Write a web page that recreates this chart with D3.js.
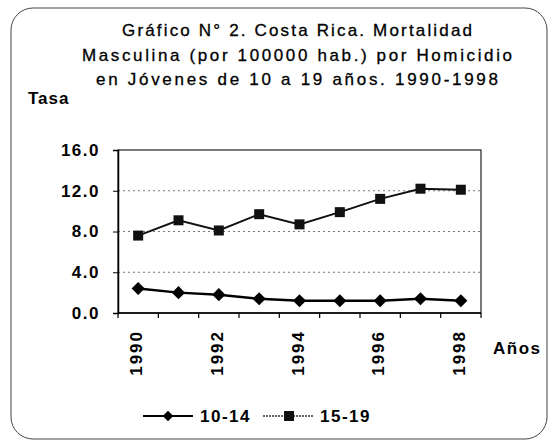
<!DOCTYPE html>
<html><head><meta charset="utf-8">
<script src="https://cdn.jsdelivr.net/npm/d3@7"></script>
<style>body{margin:0;background:#fff}svg{display:block}</style>
</head><body><svg id="c" width="550" height="442"></svg>
<script>
const years = [1990,1991,1992,1993,1994,1995,1996,1997,1998];
const tickYears = [1990,1992,1994,1996,1998];
const s1014 = [2.4,2.0,1.8,1.4,1.2,1.2,1.2,1.4,1.2];
const s1519 = [7.6,9.1,8.1,9.7,8.7,9.9,11.2,12.2,12.1];
const yTicks = [0,4,8,12,16];
const titleLines = ["Gráfico N° 2.  Costa Rica. Mortalidad","Masculina (por 100000 hab.) por Homicidio","en Jóvenes de 10 a 19 años.  1990-1998"];
const seriesNames = ["10-14","15-19"];

const svg = d3.select("#c");
const F = "'Liberation Sans', Arial, sans-serif";
svg.append("rect").attr("x",11).attr("y",8).attr("width",536).attr("height",431).attr("rx",22)
  .attr("fill","none").attr("stroke","#444").attr("stroke-width",1);

const tl = [{y:36,w:350},{y:61,w:430},{y:85,w:402}];
svg.selectAll("text.t").data(titleLines).join("text").attr("class","t")
  .attr("x",297).attr("y",(d,i)=>tl[i].y).attr("text-anchor","middle")
  .attr("textLength",(d,i)=>tl[i].w).attr("lengthAdjust","spacing")
  .attr("font-family",F).attr("font-size",17).attr("fill","#000").attr("stroke","#000").attr("stroke-width",0.3).text(d=>d);
svg.append("text").attr("x",28).attr("y",104).attr("font-family",F).attr("font-size",17).attr("font-weight","bold")
  .attr("letter-spacing",1).text("Tasa");

const L=118,R=481,T=150,B=313;
const x = d3.scaleBand().domain(years).range([L,R]);
const y = d3.scaleLinear().domain([0,16]).range([B,T]);
const g = svg.append("g");
// gridlines
g.selectAll("line.g").data([4,8,12]).join("line").attr("x1",L).attr("x2",R).attr("y1",d=>y(d)).attr("y2",d=>y(d))
  .attr("stroke","#777").attr("stroke-width",1).attr("stroke-dasharray","2,3");
g.append("rect").attr("x",L).attr("y",T).attr("width",R-L).attr("height",B-T).attr("fill","none").attr("stroke","#222").attr("stroke-width",1.2);
// y axis
const ya = svg.append("g").attr("transform",`translate(${L},0)`)
  .call(d3.axisLeft(y).tickValues(yTicks).tickSize(5).tickPadding(13).tickFormat(d3.format(".1f")));
ya.select(".domain").attr("stroke","#000").attr("stroke-width",1.5);
ya.selectAll("text").attr("font-family",F).attr("font-size",17).attr("font-weight","bold").attr("letter-spacing",1.5).attr("fill","#000");
// x axis
const bounds = years.map(d=>x(d)).concat([R]);
svg.selectAll("line.xt").data(bounds).join("line").attr("x1",d=>d).attr("x2",d=>d).attr("y1",B).attr("y2",B+5).attr("stroke","#000").attr("stroke-width",1.2);
svg.append("line").attr("x1",L).attr("x2",R).attr("y1",B).attr("y2",B).attr("stroke","#000").attr("stroke-width",1.5);
svg.selectAll("text.xl").data(tickYears).join("text").attr("class","xl")
  .attr("transform",d=>`translate(${x(d)+x.bandwidth()/2+4},${B+17}) rotate(-90)`)
  .attr("text-anchor","end").attr("font-family",F).attr("font-size",17).attr("font-weight","bold").attr("letter-spacing",2).text(d=>d);
svg.append("text").attr("x",493).attr("y",354).attr("font-family",F).attr("font-size",17).attr("font-weight","bold").attr("letter-spacing",1.5).text("Años");

const cx = d=>x(d)+x.bandwidth()/2;
const line = d3.line().x((d,i)=>cx(years[i])).y(d=>y(d));
svg.append("path").attr("d",line(s1519)).attr("fill","none").attr("stroke","#111").attr("stroke-width",2);
svg.append("path").attr("d",line(s1014)).attr("fill","none").attr("stroke","#000").attr("stroke-width",2.5);
svg.selectAll("rect.m").data(s1519).join("rect").attr("class","m")
  .attr("x",(d,i)=>cx(years[i])-5).attr("y",d=>y(d)-5).attr("width",10).attr("height",10).attr("fill","#111");
const diamond = d3.symbol().type(d3.symbolDiamond2).size(110);
svg.selectAll("path.d").data(s1014).join("path").attr("class","d")
  .attr("transform",(d,i)=>`translate(${cx(years[i])},${y(d)})`).attr("d",diamond).attr("fill","#000");

// legend
const ly=416;
svg.append("line").attr("x1",143).attr("x2",193).attr("y1",ly).attr("y2",ly).attr("stroke","#000").attr("stroke-width",2);
svg.append("path").attr("transform",`translate(168,${ly})`).attr("d",d3.symbol().type(d3.symbolDiamond2).size(70)).attr("fill","#000");
svg.append("text").attr("x",200).attr("y",ly+6).attr("font-family",F).attr("font-size",17).attr("font-weight","bold").attr("letter-spacing",1.5).text(seriesNames[0]);
svg.append("line").attr("x1",263).attr("x2",314).attr("y1",ly).attr("y2",ly).attr("stroke","#333").attr("stroke-width",1.5).attr("stroke-dasharray","2,1");
svg.append("rect").attr("x",284).attr("y",ly-5).attr("width",10).attr("height",10).attr("fill","#111");
svg.append("text").attr("x",320).attr("y",ly+6).attr("font-family",F).attr("font-size",17).attr("font-weight","bold").attr("letter-spacing",1.5).text(seriesNames[1]);
</script></body></html>
